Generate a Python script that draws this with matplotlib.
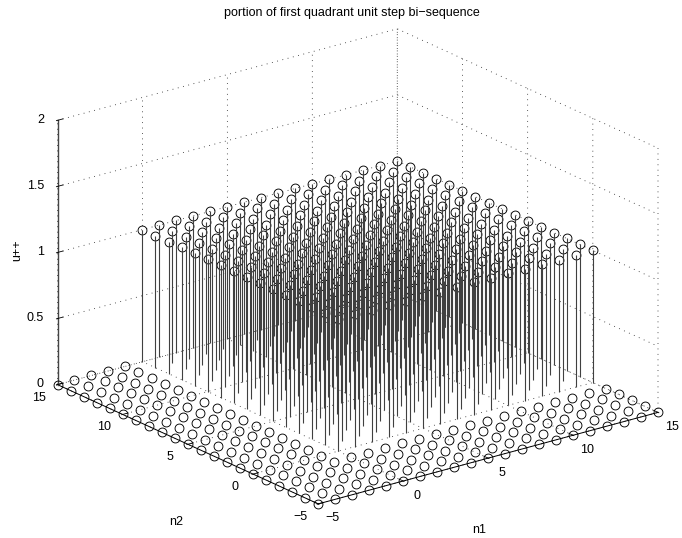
import numpy as np
import matplotlib
matplotlib.use("Agg")
import matplotlib.pyplot as plt
from mpl_toolkits.mplot3d import proj3d
from matplotlib.text import Text

# ---- data ----
n1_values = [-5, -4, -3, -2, -1, 0, 1, 2, 3, 4, 5, 6, 7, 8, 9, 10, 11, 12, 13, 14, 15]
n2_values = [-5, -4, -3, -2, -1, 0, 1, 2, 3, 4, 5, 6, 7, 8, 9, 10, 11, 12, 13, 14, 15]
step_n1 = [0, 0, 0, 0, 0, 1, 1, 1, 1, 1, 1, 1, 1, 1, 1, 1, 1, 1, 1, 1, 1]
step_n2 = [0, 0, 0, 0, 0, 1, 1, 1, 1, 1, 1, 1, 1, 1, 1, 1, 1, 1, 1, 1, 1]
n_ticks = [-5, 0, 5, 10, 15]
u_ticks = [0, 0.5, 1, 1.5, 2]
n_ticklabels = ["\u22125", "0", "5", "10", "15"]
u_ticklabels = ["0", "0.5", "1", "1.5", "2"]
title_text = "portion of first quadrant unit step bi\u2212sequence"

plt.rcParams.update({
    "font.family": ["Liberation Sans", "DejaVu Sans"],
    "grid.color": "#222222",
    "grid.linewidth": 0.6,
    "grid.linestyle": (0, (1, 5.5)),
})

fig = plt.figure(figsize=(6.82, 5.38), dpi=100)
ax = fig.add_axes([0.1, 0.1, 0.7, 0.7 * 6.82 / 5.38], projection="3d", proj_type="ortho")
ax.view_init(elev=20.55, azim=-127.5)
ax.set_box_aspect((1, 1, 0.659))
ax.patch.set_visible(False)

N1, N2 = np.meshgrid(n1_values, n2_values)
U = np.outer(step_n2, step_n1)
cont = ax.stem(N1.ravel(), N2.ravel(), U.ravel(), linefmt="k-", markerfmt="ko", basefmt=" ", bottom=0)
cont.markerline.set_markerfacecolor("none")
cont.markerline.set_markeredgecolor("black")
cont.markerline.set_markeredgewidth(0.65)
cont.markerline.set_markersize(6.4)
cont.stemlines.set_linewidth(0.8)
cont.stemlines.set_color("#404040")

ax.set_xlim(-5, 15, view_margin=0)
ax.set_ylim(-5, 15, view_margin=0)
ax.set_zlim(0, 2, view_margin=0)
ax.set_xticks(n_ticks, n_ticklabels)
ax.set_yticks(n_ticks, n_ticklabels)
ax.set_zticks(u_ticks, u_ticklabels)
ax.tick_params(axis="x", labelsize=9, pad=5, colors="black")
ax.tick_params(axis="y", labelsize=9, pad=5, colors="black")
ax.tick_params(axis="z", labelsize=9, pad=-2.5, colors="black")
ax.zaxis.set_ticks_position("upper")
ax.zaxis.set_label_position("upper")
for lab in ax.get_xticklabels() + ax.get_yticklabels():
    lab.set_va("bottom")
for lab in ax.get_zticklabels():
    lab.set_va("center")
    lab.set_ha("right")

for a in (ax.xaxis, ax.yaxis, ax.zaxis):
    a.set_pane_color((1, 1, 1, 0))
    a.pane.set_edgecolor((1, 1, 1, 0))
    a.line.set_color("black")
    a.line.set_linewidth(0.7)
    a._axinfo["tick"].update(inward_factor=0.04, outward_factor=0.2, linewidth={True: 0.6, False: 0.6})
ax.zaxis.line.set_color("#444444")
ax.zaxis.line.set_linewidth(1.0)

ax.set_xlabel("n1", fontsize=9)
ax.set_ylabel("n2", fontsize=9)
ax.set_zlabel("u++", fontsize=9, rotation=90)

fig.text(351.5 / 682, 1 - 13 / 538, title_text, fontsize=9, ha="center", va="center")

# Fit the projected box onto the figure: left corner and right corner in pixels.
W, H = fig.get_size_inches() * fig.dpi
target_left = np.array([57.5, H - 385.0])
target_right = np.array([658.0, H - 412.0])


def corner_px(x, y, z):
    X, Y, _ = proj3d.proj_transform(x, y, z, ax.get_proj())
    return ax.transData.transform((X, Y))


for _ in range(3):
    fig.canvas.draw()
    pl = corner_px(-5, 15, 0)
    pr = corner_px(15, -5, 0)
    s = (target_right[0] - target_left[0]) / (pr[0] - pl[0])
    pos = ax.get_position()
    w_px, h_px = pos.width * W * s, pos.height * H * s
    c_now = 0.5 * (pl + pr)
    c_target = 0.5 * (target_left + target_right)
    cx = pos.x0 * W + pos.width * W / 2
    cy = pos.y0 * H + pos.height * H / 2
    new_cx = c_target[0] - (c_now[0] - cx) * s
    new_cy = c_target[1] - (c_now[1] - cy) * s
    ax.set_position([(new_cx - w_px / 2) / W, (new_cy - h_px / 2) / H, w_px / W, h_px / H])
fig.canvas.draw()


def pin_axis_label(axis, px, py):
    """Keep an axis label where the reference has it, given in figure pixels."""
    axis.set_rotate_label(False)
    label = axis.label
    Text.set_position(label, ax.transData.inverted().transform((px, H - py)))
    label.set_position = lambda xy: None


pin_axis_label(ax.xaxis, 479, 530)
pin_axis_label(ax.yaxis, 176, 522)
pin_axis_label(ax.zaxis, 17, 250)

fig.savefig("out.png", dpi=100)
